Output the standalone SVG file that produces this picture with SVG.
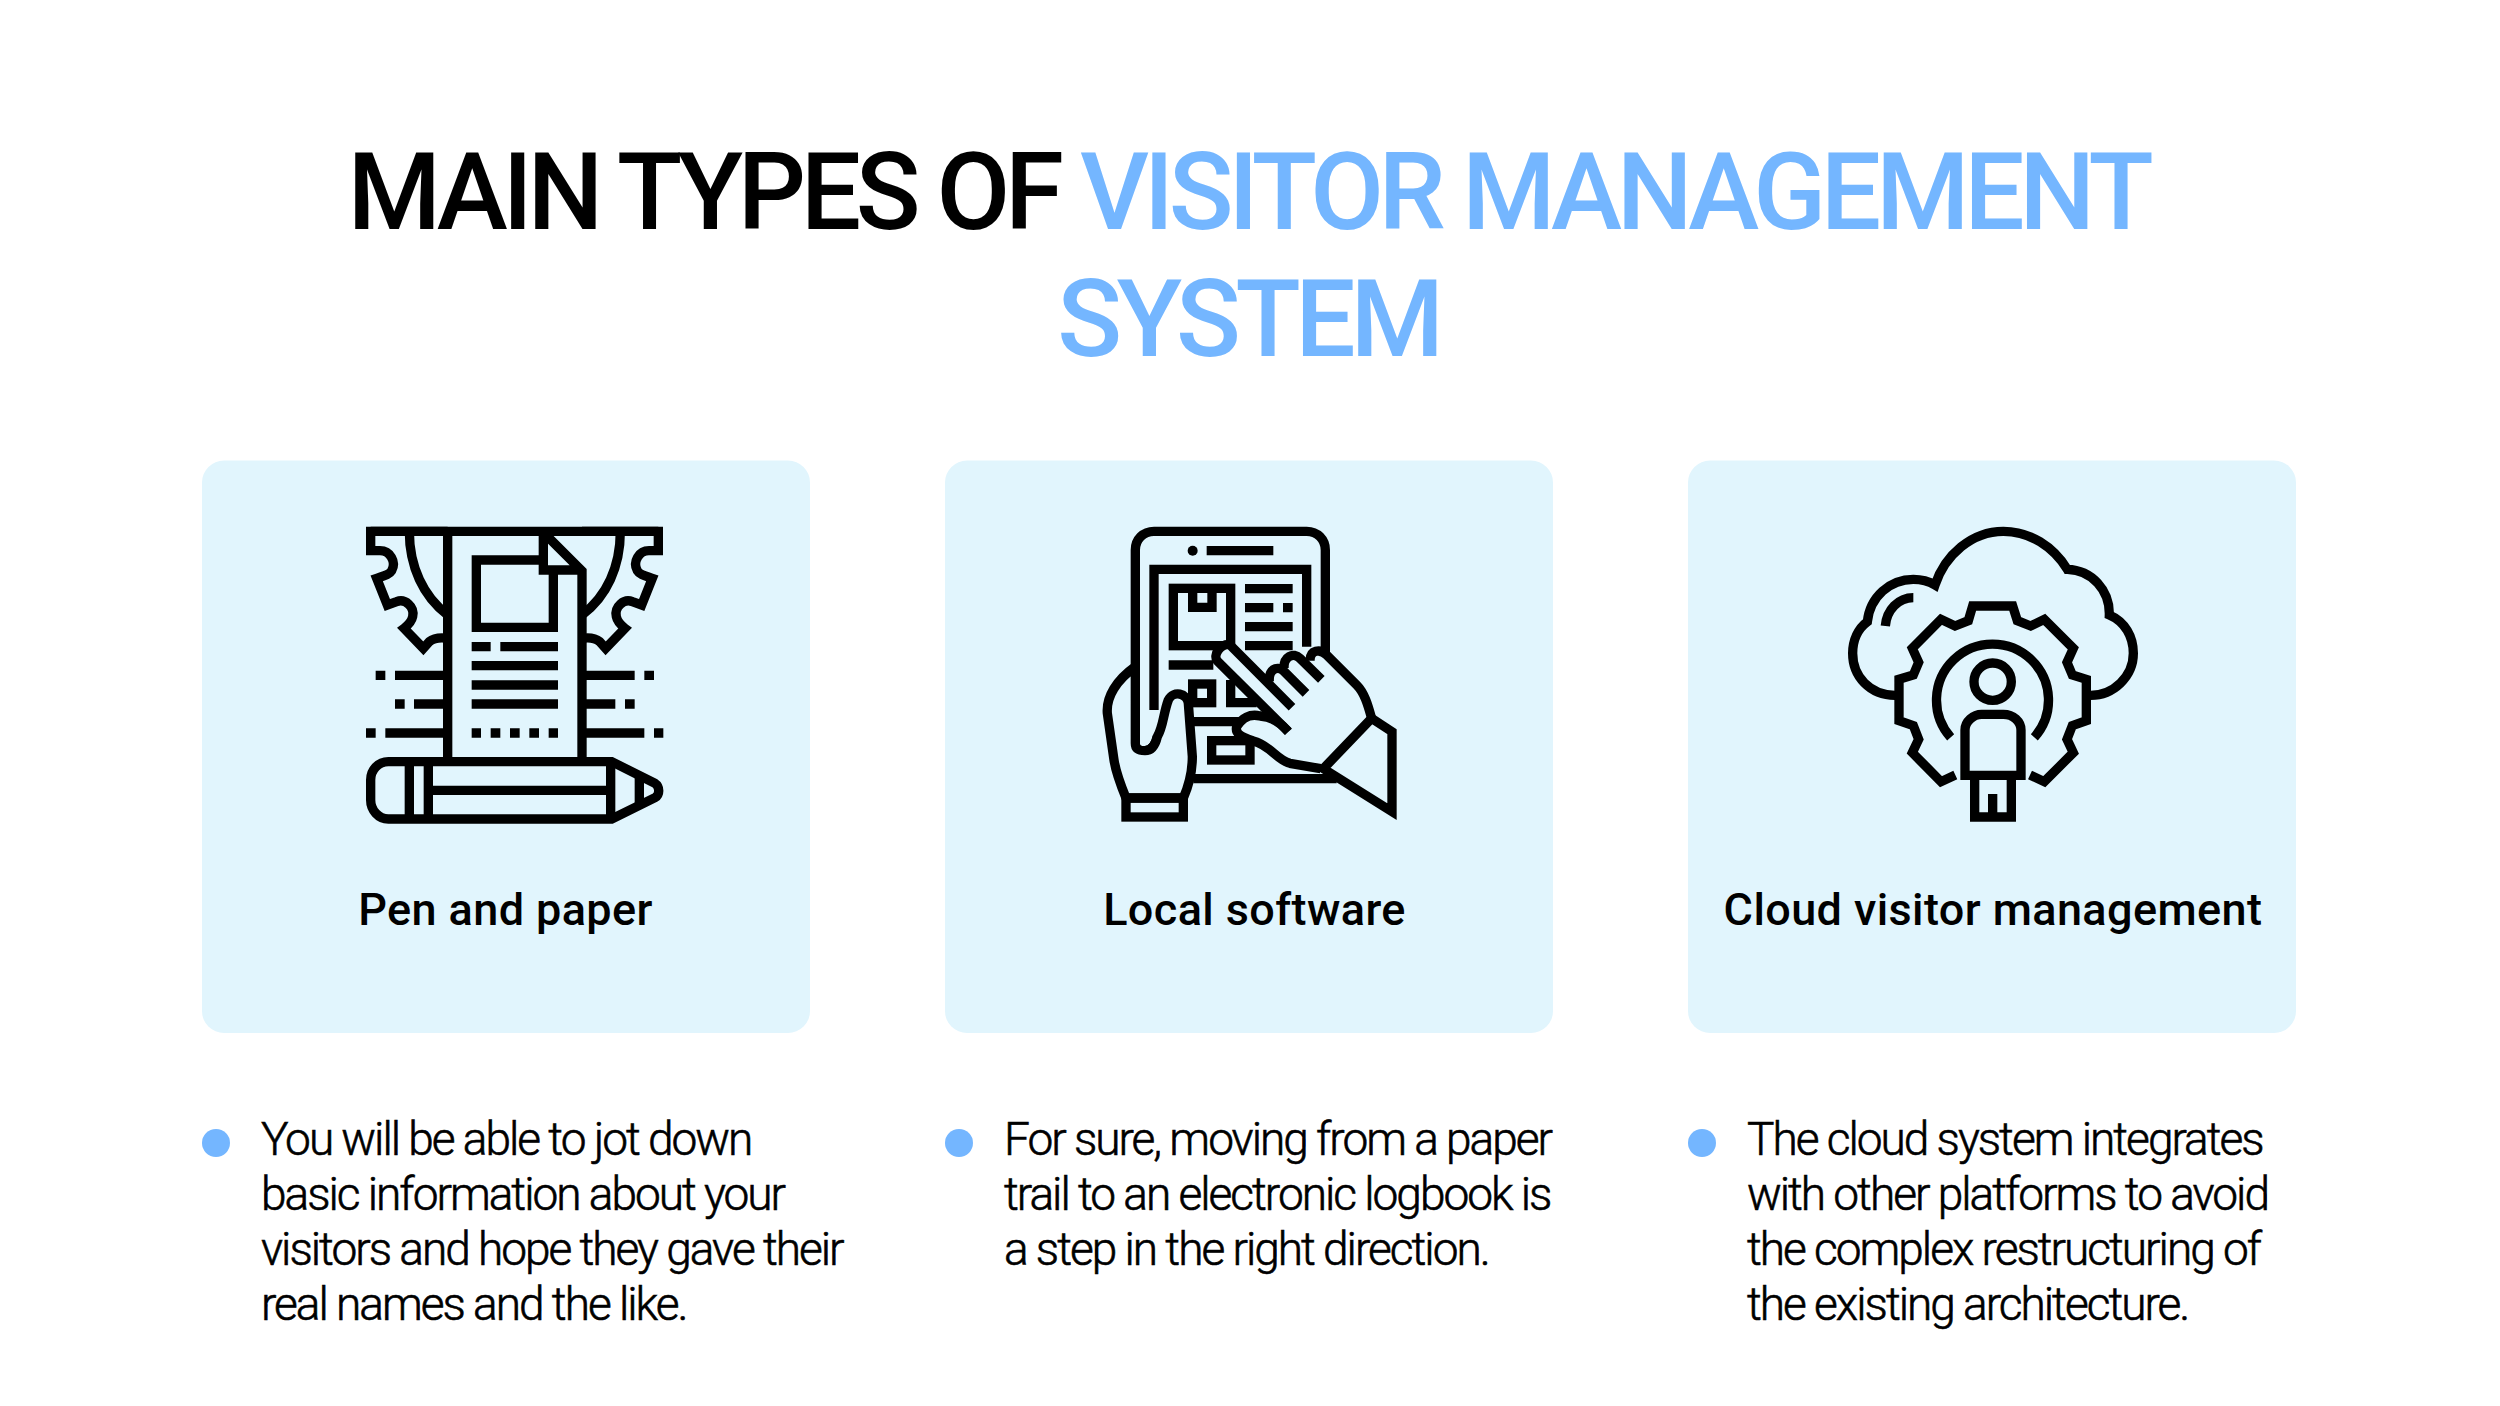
<svg xmlns="http://www.w3.org/2000/svg" width="2500" height="1406" viewBox="0 0 2500 1406">
<style>
text{font-family:Roboto,"Liberation Sans",sans-serif;fill:#000}
.t{font-size:107px;font-weight:500;letter-spacing:-5.3px;text-anchor:middle}
.b{fill:#74b6ff}
.l{font-size:45px;font-weight:500;text-anchor:middle;letter-spacing:.4px}
.d{font-size:46px;font-weight:300;letter-spacing:-2px;stroke:#000;stroke-width:.6px}
.c{fill:#e1f5fd}
.i{fill:none;stroke:#000;stroke-width:28;stroke-linejoin:miter}
.f{fill:#e1f5fd;stroke:#000;stroke-width:28}
.h{fill:#e1f5fd;stroke:none}
.k{fill:#000;stroke:none}
</style>
<rect width="2500" height="1406" fill="#fff"/>
<g id="title"><text class="t" x="1248" y="228.500">MAIN TYPES OF <tspan class="b">VISITOR MANAGEMENT</tspan></text><text class="t b" x="1248" y="356">SYSTEM</text></g>
<g id="node-pen-paper">
<rect class="c" x="202" y="460.500" width="608" height="572.500" rx="22"/>
<g transform="translate(340 500) scale(.33333)" class="i">
<path d="M323 94H92V152H120C150 152 170 185 155 212C148 224 130 228 110 235L142 315L170 305C195 295 225 320 218 350C215 365 205 375 192 385L250 445L268 425C280 415 300 412 323 415"/>
<path d="M726 94H955V152H927C897 152 877 185 892 212C899 224 917 228 937 235L905 315L877 305C852 295 822 320 829 350C832 365 842 375 855 385L797 445L779 425C767 415 747 412 726 415"/>
<path d="M208 94C208 200 250 290 323 345M841 94C841 200 800 290 726 345"/>
<path d="M92 94H955M323 94V785M726 785V213L607 94M610 94V210H726"/>
<path d="M610 180H409V382H640V210"/>
<path d="M395 440H452M481 440H654M395 497H654M395 555H654M395 612H654M395 699H423M452 699H481M510 699H539M568 699H597M626 699H654"/>
<path d="M165 526H310M107 526H136M738 526H884M913 526H942M222 612H310M165 612H194M738 612H826M855 612H884M136 699H310M78 699H107M738 699H913M942 699H970"/>
<path d="M815 785H145C115 785 92 810 92 840V900C92 930 115 957 145 957H815L945 893C960 885 960 860 945 850Z"/>
<path d="M208 785V957M265 785V957M812 785V957M898 825V915M265 871H812"/>
</g>
<text class="l" x="505.500" y="925">Pen and paper</text>
</g>
<g id="node-local-software">
<rect class="c" x="945" y="460.500" width="608" height="572.500" rx="22"/>
<g transform="translate(1080 500) scale(.33333)" class="i">
<path d="M736 470V150C736 118 712 94 680 94H222C190 94 166 118 166 150V730C166 750 180 752 195 752C210 752 225 740 232 710"/>
<path d="M222 630V208H680V440"/>
<circle class="k" cx="338" cy="152" r="15"/>
<path d="M380 152H580M495 266H638M495 323H580M609 323H638M495 380H638M495 437H638M266 495H400"/>
<rect x="280" y="265" width="172" height="172"/>
<path d="M338 270V322H396V270"/>
<rect x="338" y="552" width="57" height="56"/>
<path d="M452 540V608H530"/>
<path d="M340 665H490M340 836H770"/>
<rect x="395" y="722" width="115" height="58"/>
<path class="h" d="M625 695L412 483C398 465 420 432 448 433L565 530C575 505 590 495 612 497C615 465 645 455 665 470C690 450 720 445 740 465L830 555C855 580 865 620 875 655L722 806L630 790C590 780 570 735 520 723C480 710 465 700 470 680C485 655 510 640 540 648C570 650 600 665 625 695Z"/>
<path d="M625 695L412 483C398 465 420 432 448 433L636 622"/>
<path d="M678 580L610 512C590 495 565 510 568 545"/>
<path d="M724 538L660 475C640 455 610 470 612 505"/>
<path d="M690 482C690 450 720 445 740 465L830 555C855 580 865 620 875 655"/>
<path d="M625 695C600 665 570 650 540 648C510 640 485 655 470 680C465 700 480 710 520 723C570 735 590 780 630 790L722 806"/>
<path d="M875 655L936 695V935L730 806Z"/>
<path class="f" d="M138 894C120 850 108 820 102 780L82 640C78 590 110 540 166 500V730C166 750 180 752 195 752C210 752 225 740 232 710C250 680 250 640 265 600C280 570 322 580 325 610L337 770C337 810 325 860 310 894Z"/>
<rect x="138" y="894" width="172" height="57"/>
</g>
<text class="l" x="1254.500" y="925">Local software</text>
</g>
<g id="node-cloud">
<rect class="c" x="1688" y="460.500" width="608" height="572.500" rx="22"/>
<g transform="translate(1830 500) scale(.33333)" class="i">
<path d="M195 586C120 586 68 530 68 460C68 420 85 385 112 365C120 290 180 238 250 238C275 238 295 243 315 255C345 165 425 94 520 94C600 94 670 140 712 208C785 210 840 270 838 345C885 365 910 410 910 460C910 530 850 586 782 586"/>
<path d="M166 378C170 330 205 293 250 293"/>
<path d="M376 825L333 845L247 758L266 718L250 677L207 662V538L250 525L266 487L247 445L333 358L375 378L415 362L428 318H548L562 362L602 378L643 358L730 445L711 487L727 525L769 538V662L727 677L711 718L730 758L643 845L600 825"/>
<path d="M362 712A168 168 0 1 1 613 712"/>
<circle cx="488" cy="545" r="56"/>
<path d="M405 826V690C405 665 430 643 455 643H520C550 643 573 665 573 690V826Z"/>
<path d="M434 826V951H544V826M488 882V951"/>
</g>
<text class="l" x="1993" y="925">Cloud visitor management</text>
</g>
<g id="bullet-1"><circle class="b" cx="216" cy="1143" r="14"/><text class="d"><tspan x="261" y="1155">You will be able to jot down</tspan><tspan x="261" y="1210">basic information about your</tspan><tspan x="261" y="1265">visitors and hope they gave their</tspan><tspan x="261" y="1320">real names and the like.</tspan></text></g>
<g id="bullet-2"><circle class="b" cx="959" cy="1143" r="14"/><text class="d"><tspan x="1004" y="1155">For sure, moving from a paper</tspan><tspan x="1004" y="1210">trail to an electronic logbook is</tspan><tspan x="1004" y="1265">a step in the right direction.</tspan></text></g>
<g id="bullet-3"><circle class="b" cx="1702" cy="1143" r="14"/><text class="d"><tspan x="1747" y="1155">The cloud system integrates</tspan><tspan x="1747" y="1210">with other platforms to avoid</tspan><tspan x="1747" y="1265">the complex restructuring of</tspan><tspan x="1747" y="1320">the existing architecture.</tspan></text></g>
<g id="connectors"></g>
</svg>
